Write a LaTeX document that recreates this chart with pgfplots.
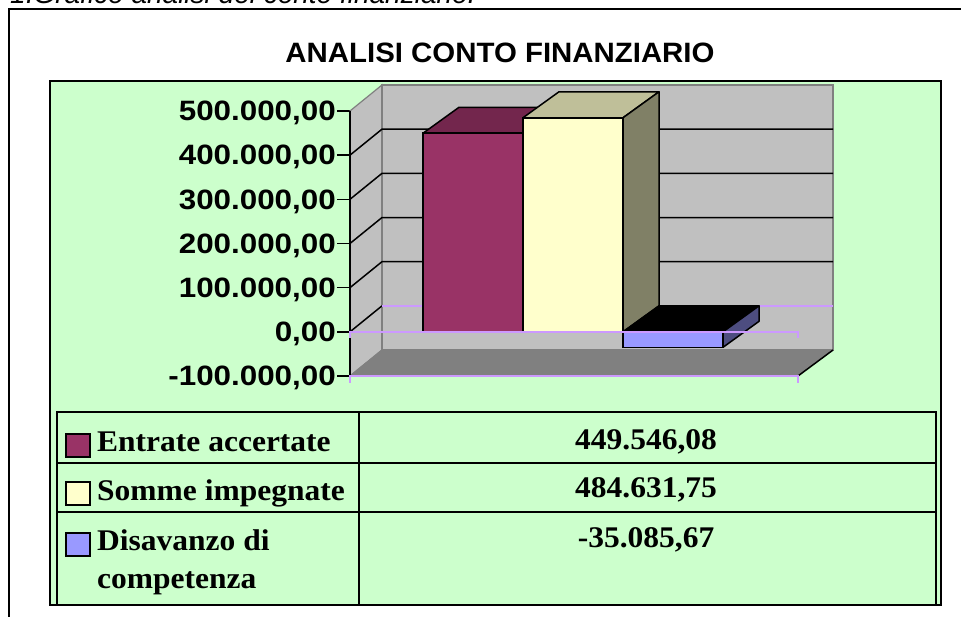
\documentclass[border=0pt]{standalone}
\usepackage{pgfplots}
\pgfplotsset{compat=1.18}
\usepackage{fontspec}
\setmainfont{Liberation Sans}
\newfontfamily\tabfont{Liberation Serif}
\definecolor{bg}{HTML}{CCFFCC}
\definecolor{wall}{HTML}{C0C0C0}
\definecolor{floorc}{HTML}{808080}
\definecolor{edge}{HTML}{808080}
\definecolor{axpurple}{HTML}{CC99FF}
\definecolor{b1}{HTML}{993366}
\definecolor{b1t}{HTML}{73264D}
\definecolor{b2}{HTML}{FFFFCC}
\definecolor{b2t}{HTML}{BFBF99}
\definecolor{b2s}{HTML}{808066}
\definecolor{b3}{HTML}{9999FF}
\definecolor{b3s}{HTML}{4D4D80}
\newcommand\T[1]{\scalebox{1.12}[1]{#1}}
\newcommand\tabtext{\tabfont\bfseries\fontsize{30}{32}\selectfont}
\begin{document}
\begin{tikzpicture}
\useasboundingbox (0,0) rectangle (961pt,617pt);
\begin{scope}[x=1pt,y=-1pt,shift={(0pt,617pt)}]
  \fill[white] (0,0) rectangle (961,617);
  \node[anchor=base west, inner sep=0, font=\itshape\fontsize{28}{30}\selectfont] at (10,4) {1.Grafico analisi del conto finanziario.};
  \draw[line width=2pt] (9,640) -- (9,9) -- (990,9);
  \fill[bg] (50,81) rectangle (941,605);
  \draw[line width=2pt] (50,81) rectangle (941,605);
  \node[anchor=base, inner sep=0, font=\bfseries\fontsize{28}{30}\selectfont] at (500,63) {\scalebox{1.05}[1]{ANALISI CONTO FINANZIARIO}};
\end{scope}

\begin{axis}[
  at={(350pt,241pt)}, anchor=south west,
  width=483pt, height=291pt, scale only axis,
  xmin=-0.23, xmax=4.60, ymin=-100000, ymax=558800,
  axis lines*=left, axis line style={draw=none},
  xtick=\empty,
  ytick={-100000,0,100000,200000,300000,400000,500000},
  yticklabels={{\T{-100.000,00}},{\T{0,00}},{\T{100.000,00}},{\T{200.000,00}},{\T{300.000,00}},{\T{400.000,00}},{\T{500.000,00}}},
  tick align=outside, major tick length=13pt,
  tick style={black, line width=1.5pt},
  yticklabel style={font=\bfseries\fontsize{28}{30}\selectfont, inner sep=1pt, text depth=0pt},
  scaled y ticks=false,
  clip=false,
]
% side wall and back wall
\addplot[fill=wall, draw=edge, line width=1.2pt] coordinates {(-0.23,-100000)(-0.23,500000)(0.09,558800)(0.09,-41200)} --cycle;
\addplot[fill=wall, draw=edge, line width=1.5pt] coordinates {(0.09,-41200)(0.09,558800)(4.60,558800)(4.60,-41200)} --cycle;
% gridlines
\addplot[black, line width=1.5pt] coordinates {(-0.23,100000)(0.09,158800)(4.60,158800)};
\addplot[black, line width=1.5pt] coordinates {(-0.23,200000)(0.09,258800)(4.60,258800)};
\addplot[black, line width=1.5pt] coordinates {(-0.23,300000)(0.09,358800)(4.60,358800)};
\addplot[black, line width=1.5pt] coordinates {(-0.23,400000)(0.09,458800)(4.60,458800)};
\addplot[black, line width=1.5pt] coordinates {(-0.23,0)(0.09,58800)};
\addplot[axpurple, line width=1.5pt] coordinates {(0.09,58800)(4.60,58800)};
% floor
\addplot[fill=floorc, draw=none] coordinates {(-0.23,-100000)(4.25,-100000)(4.60,-41200)(0.09,-41200)} --cycle;
\addplot[edge, line width=1.2pt] coordinates {(-0.23,-100000)(0.09,-41200)};
\addplot[black, line width=1.5pt] coordinates {(4.25,-100000)(4.60,-41200)};
% y axis line
\addplot[black, line width=1.6pt] coordinates {(-0.23,-100000)(-0.23,500000)};
% bar 1: Entrate accertate 449546.08
\addplot[fill=b1t, draw=black, line width=1.5pt, line join=round] coordinates {(0.5,449546.08)(1.5,449546.08)(1.86,508346.08)(0.86,508346.08)} --cycle;
\addplot[fill=b1!50!black, draw=black, line width=1.5pt, line join=round] coordinates {(1.5,449546.08)(1.86,508346.08)(1.86,58800)(1.5,0)} --cycle;
\addplot[ybar, bar width=1, bar shift=0, fill=b1, draw=black, line width=1.5pt] coordinates {(1,449546.08)};
% bar 2: Somme impegnate 484631.75
\addplot[fill=b2t, draw=black, line width=1.5pt, line join=round] coordinates {(1.5,484631.75)(2.5,484631.75)(2.86,543431.75)(1.86,543431.75)} --cycle;
\addplot[fill=b2s, draw=black, line width=1.5pt, line join=round] coordinates {(2.5,484631.75)(2.86,543431.75)(2.86,58800)(2.5,0)} --cycle;
\addplot[ybar, bar width=1, bar shift=0, fill=b2, draw=black, line width=1.5pt] coordinates {(2,484631.75)};
% bar 3: Disavanzo di competenza -35085.67
\addplot[fill=black, draw=black, line width=1.5pt, line join=round] coordinates {(2.5,0)(3.5,0)(3.86,58800)(2.86,58800)} --cycle;
\addplot[fill=b3s, draw=black, line width=1.5pt, line join=round] coordinates {(3.5,0)(3.86,58800)(3.86,23714.33)(3.5,-35085.67)} --cycle;
\addplot[ybar, bar width=1, bar shift=0, fill=b3, draw=black, line width=1.5pt] coordinates {(3,-35085.67)};
% front category axis lines
\addplot[axpurple, line width=1.5pt] coordinates {(-0.23,-13500)(-0.23,0)(4.25,0)(4.25,-13500)};
\addplot[axpurple, line width=1.5pt] coordinates {(-0.23,-115000)(-0.23,-100000)(4.25,-100000)(4.25,-115000)};
\end{axis}

\begin{scope}[x=1pt,y=-1pt,shift={(0pt,617pt)}]
  \draw[line width=1.5pt] (57,412) rectangle (936,605);
  \draw[line width=1.5pt] (359,412) -- (359,605);
  \draw[line width=1.5pt] (57,463) -- (936,463);
  \draw[line width=1.5pt] (57,512) -- (936,512);
  \filldraw[fill=b1, draw=black, line width=1.5pt] (66,434) rectangle (90,457);
  \filldraw[fill=b2, draw=black, line width=1.5pt] (66,482) rectangle (90,505);
  \filldraw[fill=b3, draw=black, line width=1.5pt] (66,533) rectangle (90,556);
  \node[anchor=base west, inner sep=0, font=\tabtext] at (97,452) {\scalebox{1.05}[1]{Entrate accertate}};
  \node[anchor=base west, inner sep=0, font=\tabtext] at (97,501) {\scalebox{1.05}[1]{Somme impegnate}};
  \node[anchor=base west, inner sep=0, font=\tabtext] at (97,551) {\scalebox{1.05}[1]{Disavanzo di}};
  \node[anchor=base west, inner sep=0, font=\tabtext] at (97,589) {\scalebox{1.05}[1]{competenza}};
  \node[anchor=base, inner sep=0, font=\tabtext] at (646,450) {\scalebox{1.05}[1]{449.546,08}};
  \node[anchor=base, inner sep=0, font=\tabtext] at (646,498) {\scalebox{1.05}[1]{484.631,75}};
  \node[anchor=base, inner sep=0, font=\tabtext] at (646,548) {\scalebox{1.05}[1]{-35.085,67}};
\end{scope}
\end{tikzpicture}
\end{document}
